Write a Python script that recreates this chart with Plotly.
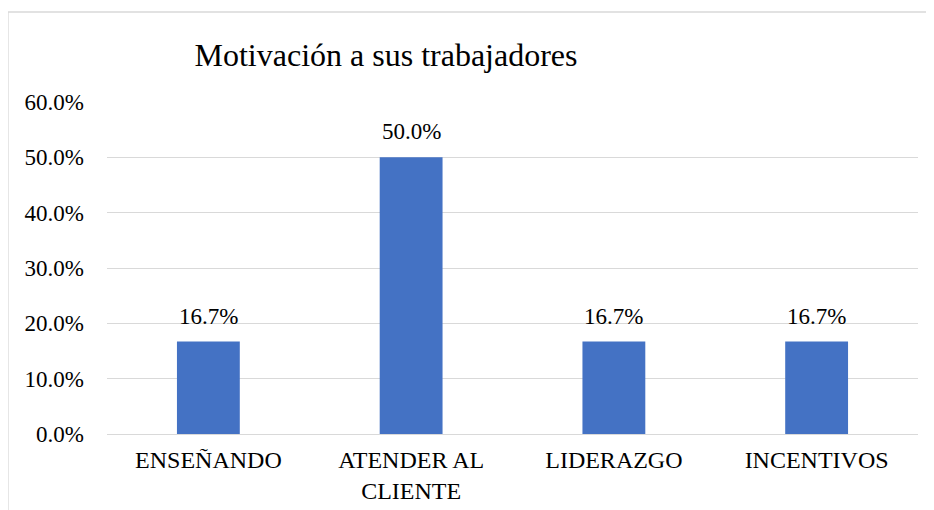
import plotly.graph_objects as go

categories = ["ENSEÑANDO", "ATENDER AL<br>CLIENTE", "LIDERAZGO", "INCENTIVOS"]
values = [0.167, 0.50, 0.167, 0.167]
labels = ["16.7%", "50.0%", "16.7%", "16.7%"]
tick_vals = [0, 0.1, 0.2, 0.3, 0.4, 0.5, 0.6]
tick_text = ["0.0%", "10.0%", "20.0%", "30.0%", "40.0%", "50.0%", "60.0%"]

FONT = "Liberation Serif"

fig = go.Figure(go.Bar(
    x=categories, y=values,
    marker=dict(color="#4472C4", line=dict(width=0)),
    width=0.31,
))

for c, v, t in zip(categories, values, labels):
    fig.add_annotation(x=c, y=v, text=t, showarrow=False, yanchor="bottom",
                       yshift=11, font=dict(family=FONT, size=23, color="#000000"))

W, H = 926, 502
L, T, R, B = 99, 94, 910, 426
fig.update_layout(
    width=W, height=H,
    margin=dict(l=L, r=W - R, t=T, b=H - B, autoexpand=False),
    paper_bgcolor="white", plot_bgcolor="white",
    font=dict(family=FONT, size=23, color="#000000"),
    showlegend=False,
    title=dict(text="Motivación a sus trabajadores", x=378 / W, xanchor="center",
               y=1 - 47 / H, yanchor="middle",
               font=dict(family=FONT, size=32, color="#000000")),
    xaxis=dict(showgrid=False, showline=False, ticks="", zeroline=False,
               ticklabelstandoff=9, automargin=False,
               tickfont=dict(family=FONT, size=24)),
    yaxis=dict(range=[0, 0.6], tickvals=tick_vals, ticktext=tick_text,
               showgrid=True, gridcolor="#d9d9d9", gridwidth=1.3,
               zeroline=True, zerolinecolor="#d9d9d9", zerolinewidth=1.3,
               showline=False, ticks="", ticklabelstandoff=22, automargin=False,
               tickfont=dict(family=FONT, size=23)),
    shapes=[dict(type="rect", xref="paper", yref="paper",
                 x0=(0 - L) / (R - L), x1=(W + 10 - L) / (R - L),
                 y0=(B - (H + 10)) / (B - T), y1=1 + (T - 4) / (B - T),
                 line=dict(color="#d9d9d9", width=1.3), fillcolor="rgba(0,0,0,0)",
                 layer="below")],
)

fig.write_html("out.html")
